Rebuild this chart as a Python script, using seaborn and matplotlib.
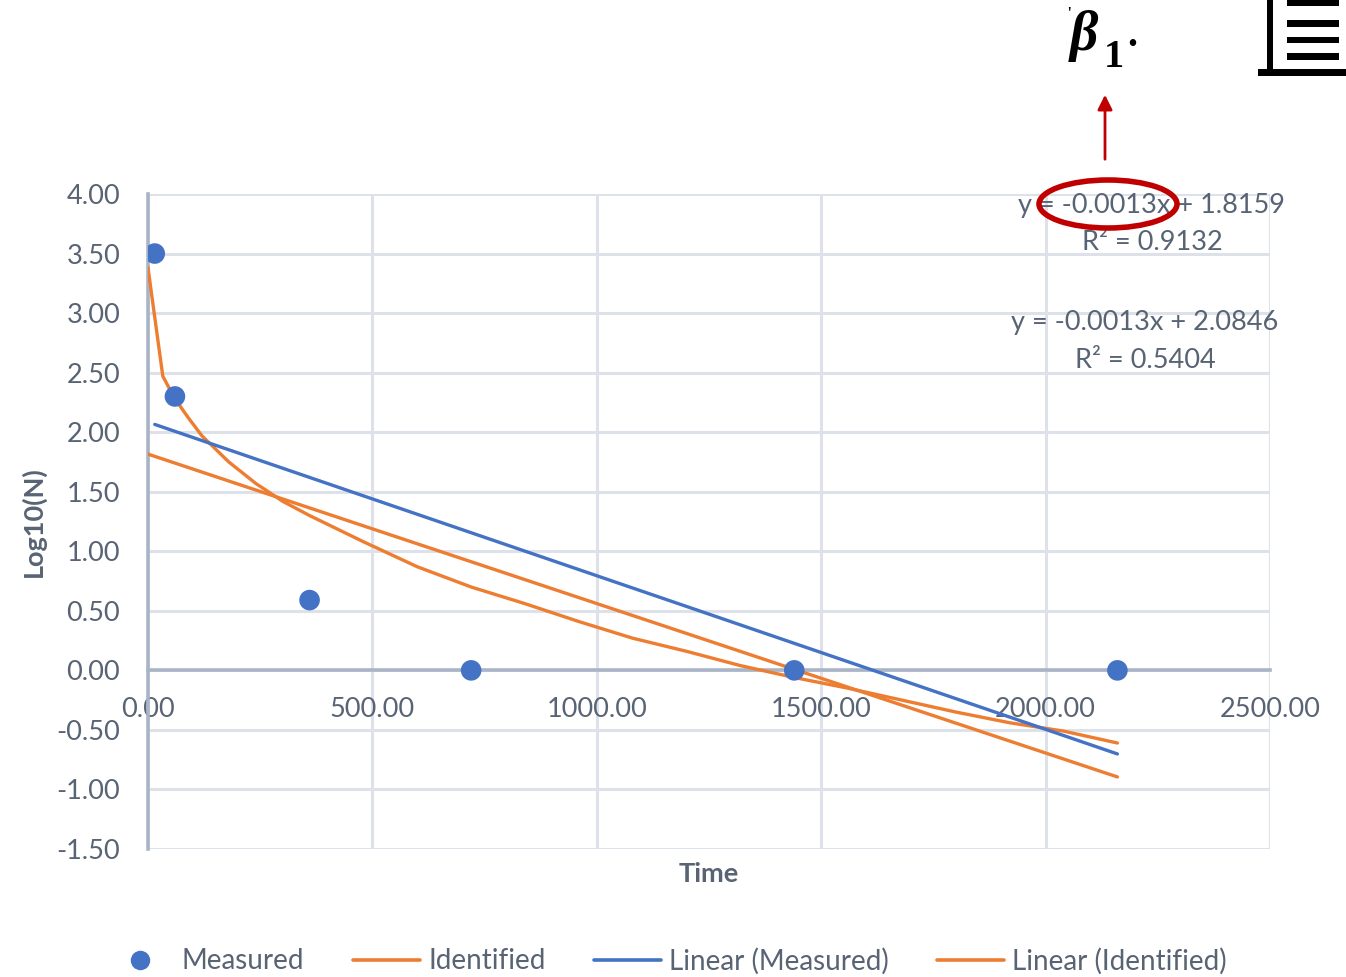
import numpy as np
import pandas as pd
import matplotlib
matplotlib.use("Agg")
import matplotlib.pyplot as plt
import seaborn as sns
from matplotlib.patches import Ellipse, FancyArrowPatch, Rectangle
from matplotlib.lines import Line2D
from matplotlib.ticker import FormatStrFormatter

# Measured counts (log10) at sampling times
measured_time = [15, 60, 360, 720, 1440, 2160]
measured_log = [3.50, 2.30, 0.59, 0.00, 0.00, 0.00]

# Identified model response
identified_time = [0, 33, 60, 90, 120, 180, 240, 300, 360, 480, 600, 720, 840,
                   960, 1080, 1200, 1320, 1440, 1560, 1680, 1800, 1920, 2040, 2160]
identified_log = [3.38, 2.47, 2.28, 2.12, 1.97, 1.75, 1.57, 1.42, 1.30, 1.08, 0.87,
                  0.70, 0.56, 0.41, 0.27, 0.16, 0.04, -0.06, -0.15, -0.25, -0.35,
                  -0.44, -0.51, -0.61]

# Linear trend coefficients: [Measured, Identified]
trend_slope = [-0.00129, -0.001255]
trend_intercept = [2.0846, 1.8159]
trend_r2 = [0.5404, 0.9132]

y_ticks = [-1.5, -1.0, -0.5, 0.0, 0.5, 1.0, 1.5, 2.0, 2.5, 3.0, 3.5, 4.0]
x_ticks = [0, 500, 1000, 1500, 2000, 2500]

BLUE = "#4472C4"
ORANGE = "#ED7D31"
TEXT = "#586374"
GRID = "#dde2ea"
AXIS = "#a9b5c7"
RED = "#C00000"
FS = 19.5

sns.set_theme(style="white")
plt.rcParams["font.family"] = ["Lato", "DejaVu Sans"]

W, H = 1346, 977
fig = plt.figure(figsize=(W / 100, H / 100), dpi=100)
ax = fig.add_axes([148 / W, 1 - 849 / H, (1270 - 148) / W, (849 - 194) / H])

meas = pd.DataFrame({"Time": measured_time, "Log10(N)": measured_log})
ident = pd.DataFrame({"Time": identified_time, "Log10(N)": identified_log})

# Trend lines over each series' time span
trend_frames = []
for name, t, s, b in [("Linear (Measured)", measured_time, trend_slope[0], trend_intercept[0]),
                      ("Linear (Identified)", identified_time, trend_slope[1], trend_intercept[1])]:
    xs = np.array([min(t), max(t)], dtype=float)
    trend_frames.append(pd.DataFrame({"Time": xs, "Log10(N)": s * xs + b, "series": name}))

sns.lineplot(data=ident, x="Time", y="Log10(N)", color=ORANGE, lw=2.4,
             sort=False, estimator=None, ax=ax, zorder=3)
sns.lineplot(data=trend_frames[0], x="Time", y="Log10(N)", color=BLUE, lw=2.4,
             estimator=None, ax=ax, zorder=3)
sns.lineplot(data=trend_frames[1], x="Time", y="Log10(N)", color=ORANGE, lw=2.4,
             estimator=None, ax=ax, zorder=3)
sns.scatterplot(data=meas, x="Time", y="Log10(N)", color=BLUE, s=220,
                edgecolor="none", ax=ax, zorder=4)

ax.set_xlim(0, 2500)
ax.set_ylim(-1.5, 4.0)
ax.set_xticks(x_ticks)
ax.set_yticks(y_ticks)
ax.xaxis.set_major_formatter(FormatStrFormatter("%.2f"))
ax.yaxis.set_major_formatter(FormatStrFormatter("%.2f"))
ax.grid(True, color=GRID, lw=2.2, zorder=0)
ax.set_axisbelow(True)

for side in ["top", "right"]:
    ax.spines[side].set_visible(False)
ax.spines["left"].set_color(AXIS)
ax.spines["left"].set_linewidth(2.6)
ax.spines["bottom"].set_position(("data", 0))
ax.spines["bottom"].set_color(AXIS)
ax.spines["bottom"].set_linewidth(2.6)
ax.spines["left"].set_zorder(1)
ax.spines["bottom"].set_zorder(1)

ax.tick_params(axis="y", length=0, pad=20, labelsize=FS, labelcolor=TEXT)
ax.tick_params(axis="x", length=0, pad=19, labelsize=FS, labelcolor=TEXT)

ax.set_xlabel("Time", fontsize=FS, fontweight="bold", color=TEXT)
ax.set_ylabel("Log10(N)", fontsize=FS, fontweight="bold", color=TEXT)
ax.xaxis.label.set_va("center")
ax.yaxis.label.set_va("center")
ax.xaxis.set_label_coords(0.5, (849 - 874) / 655)
ax.yaxis.set_label_coords((33 - 148) / 1122, 0.5)


def fx(px):
    return px / W


def fy(py):
    return 1 - py / H


# Trend line equations
eq_font = dict(fontsize=FS, color=TEXT, ha="center", va="center")
fig.text(fx(1152), fy(206), f"y = {trend_slope[1]:.4f}x + {trend_intercept[1]:.4f}", **eq_font)
fig.text(fx(1152), fy(242), f"R² = {trend_r2[1]:.4f}", **eq_font)
fig.text(fx(1145), fy(323), f"y = {trend_slope[0]:.4f}x + {trend_intercept[0]:.4f}", **eq_font)
fig.text(fx(1145), fy(360), f"R² = {trend_r2[0]:.4f}", **eq_font)

# Highlight of the slope coefficient
fig.add_artist(Ellipse((fx(1108), fy(204)), 138 / W, 48 / H, transform=fig.transFigure,
                       fill=False, edgecolor=RED, lw=4, zorder=5))
fig.add_artist(FancyArrowPatch((fx(1105), fy(162)), (fx(1105), fy(92)),
                               transform=fig.transFigure, arrowstyle="-|>",
                               mutation_scale=22, color=RED, lw=2))

# beta_1 symbol
fig.text(fx(1070), fy(50), "β", fontsize=40, fontweight="bold", fontstyle="italic",
         family="Liberation Serif", color="black", ha="left", va="baseline")
fig.text(fx(1104), fy(67), "1", fontsize=29, fontweight="bold",
         family="Liberation Serif", color="black", ha="left", va="baseline")
fig.text(fx(1127), fy(46), ".", fontsize=29, fontweight="bold",
         family="Liberation Serif", color="black", ha="left", va="baseline")
fig.text(fx(1067), fy(20), "'", fontsize=14, family="Liberation Serif", color="black",
         ha="left", va="baseline")

# List icon in the corner
icon = [(1267, 0, 6, 72), (1258, 69, 88, 7), (1287, 0, 52, 6),
        (1287, 20, 52, 7), (1287, 37, 52, 6), (1287, 53, 52, 7)]
for x0, y0, w, h in icon:
    fig.add_artist(Rectangle((fx(x0), fy(y0 + h)), w / W, h / H, transform=fig.transFigure,
                             facecolor="black", edgecolor="none"))

# Legend
handles = [
    Line2D([], [], ls="none", marker="o", markersize=14, color=BLUE, markeredgecolor="none"),
    Line2D([], [], color=ORANGE, lw=2.6),
    Line2D([], [], color=BLUE, lw=2.6),
    Line2D([], [], color=ORANGE, lw=2.6),
]
labels = ["Measured", "Identified", "Linear (Measured)", "Linear (Identified)"]
fig.legend(handles, labels, loc="center", bbox_to_anchor=(fx(667), fy(961)), ncol=4,
           frameon=False, fontsize=20, labelcolor=TEXT, handlelength=2.4,
           handletextpad=0.3, columnspacing=1.75)

fig.savefig("out.png", dpi=100, facecolor="white")
